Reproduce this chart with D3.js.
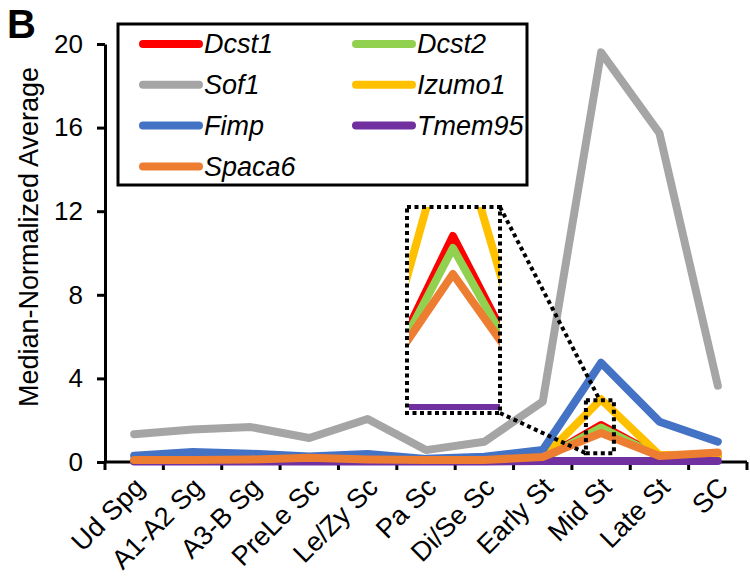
<!DOCTYPE html>
<html>
<head>
<meta charset="utf-8">
<style>
	body { margin: 0; background: #fff; }
	svg { display: block; font-family: "Liberation Sans", Arial, sans-serif; }
	.series { fill: none; stroke-width: 8; stroke-linejoin: round; stroke-linecap: round; }
	.dots { fill: none; stroke: #000; stroke-width: 4; stroke-dasharray: 4 3.5; }
</style>
</head>
<body>
<svg width="750" height="587"></svg>
<script src="https://d3js.org/d3.v7.min.js"></script>
<script>

// ---- data ----
var categories = ["Ud Spg", "A1-A2 Sg", "A3-B Sg", "PreLe Sc", "Le/Zy Sc", "Pa Sc",
	"Di/Se Sc", "Early St", "Mid St", "Late St", "SC"];

var dcst1  = [0.05, 0.05, 0.05, 0.05, 0.05, 0.05, 0.05, 0.15, 1.77, 0.25, 0.30];
var dcst2  = [0.05, 0.05, 0.05, 0.05, 0.05, 0.05, 0.05, 0.15, 1.65, 0.25, 0.30];
var sof1   = [1.33, 1.55, 1.67, 1.15, 2.06, 0.57, 0.97, 2.89, 19.6, 15.74, 3.65];
var izumo1 = [0.05, 0.05, 0.05, 0.05, 0.05, 0.05, 0.05, 0.20, 3.00, 0.33, 0.35];
var fimp   = [0.30, 0.48, 0.40, 0.26, 0.38, 0.15, 0.25, 0.57, 4.75, 1.93, 0.97];
var tmem95 = [0.02, 0.02, 0.02, 0.02, 0.02, 0.02, 0.02, 0.05, 0.05, 0.05, 0.05];
var spaca6 = [0.10, 0.10, 0.12, 0.20, 0.12, 0.10, 0.10, 0.24, 1.39, 0.29, 0.45];

var yTicks = [0, 4, 8, 12, 16, 20];

// legend order (row by row) and draw order (later on top)
var series = [
	{name: "Dcst1",  values: dcst1,  color: "#FF0000"},
	{name: "Dcst2",  values: dcst2,  color: "#92D050"},
	{name: "Sof1",   values: sof1,   color: "#A5A5A5"},
	{name: "Izumo1", values: izumo1, color: "#FFC000"},
	{name: "Fimp",   values: fimp,   color: "#4472C4"},
	{name: "Tmem95", values: tmem95, color: "#7030A0"},
	{name: "Spaca6", values: spaca6, color: "#ED7D31"}
];

var svg = d3.select("svg");

var margin = {top: 44, left: 105, right: 3, bottom: 125};
var width = 750, height = 587;

var x = d3.scaleBand()
	.domain(categories)
	.range([margin.left, width - margin.right]);

var y = d3.scaleLinear()
	.domain([0, 20])
	.range([height - margin.bottom, margin.top]);

var cx = function(i){ return x(categories[i]) + x.bandwidth() / 2; };

var line = d3.line()
	.x(function(d, i){ return cx(i); })
	.y(function(d){ return y(d); });

// panel letter
svg.append("text")
	.attr("x", 7).attr("y", 38)
	.attr("font-size", 40).attr("font-weight", "bold")
	.text("B");

// y axis
var yAxis = svg.append("g")
	.attr("transform", "translate(" + margin.left + ",0)")
	.call(d3.axisLeft(y).tickValues(yTicks).tickSize(8).tickPadding(14).tickSizeOuter(0));
yAxis.select(".domain").attr("stroke-width", 3);
yAxis.selectAll(".tick line").attr("stroke-width", 3);
yAxis.selectAll(".tick text").attr("font-size", 26).attr("font-family", "Liberation Sans, Arial, sans-serif");

svg.append("text")
	.attr("transform", "translate(38," + (y(10) - 16) + ") rotate(-90)")
	.attr("text-anchor", "middle")
	.attr("font-size", 27)
	.text("Median-Normalized Average");

// x axis: line with ticks between categories
var xAxis = svg.append("g");
xAxis.append("line")
	.attr("x1", margin.left).attr("x2", width - margin.right)
	.attr("y1", y(0)).attr("y2", y(0))
	.attr("stroke", "#000").attr("stroke-width", 3);
var bounds = categories.map(function(c){ return x(c); }).concat([x.range()[1]]);
xAxis.selectAll(".xt")
	.data(bounds)
	.join("line")
	.attr("x1", function(d){ return d; }).attr("x2", function(d){ return d; })
	.attr("y1", y(0)).attr("y2", y(0) + 8)
	.attr("stroke", "#000").attr("stroke-width", 3);
xAxis.selectAll(".xl")
	.data(categories)
	.join("text")
	.attr("text-anchor", "end")
	.attr("font-size", 27)
	.attr("transform", function(d, i){
		return "translate(" + (cx(i) + 12) + "," + (y(0) + 27) + ") rotate(-45)";
	})
	.text(function(d){ return d; });

// series
svg.append("g")
	.selectAll("path")
	.data(series)
	.join("path")
	.attr("class", "series")
	.attr("stroke", function(d){ return d.color; })
	.attr("d", function(d){ return line(d.values); });

// ---- zoomed inset around Mid St ----
var mid = categories.indexOf("Mid St");
var inset = {x0: 407, x1: 500, y0: 207, y1: 413};

var xIn = d3.scaleLinear().domain([mid - 0.56, mid + 0.6]).range([inset.x0 + 2, inset.x1]);
var yIn = d3.scaleLinear().domain([0, 2.06]).range([inset.y1, inset.y0]);

var lineIn = d3.line()
	.x(function(d, i){ return xIn(i); })
	.y(function(d){ return yIn(d); });

svg.append("clipPath").attr("id", "inclip")
	.append("rect")
	.attr("x", inset.x0 + 2).attr("y", inset.y0)
	.attr("width", inset.x1 - inset.x0 - 2).attr("height", inset.y1 - inset.y0 - 3);

svg.append("g")
	.attr("clip-path", "url(#inclip)")
	.selectAll("path")
	.data(series.filter(function(s){ return s.name !== "Sof1" && s.name !== "Fimp"; }))
	.join("path")
	.attr("class", "series")
	.attr("stroke-linecap", "butt")
	.attr("stroke", function(d){ return d.color; })
	.attr("d", function(d){ return lineIn(d.values); });

// dotted frames and connectors
var small = {x0: x(categories[mid]) + 14, x1: x(categories[mid]) + 42, y0: y(2.95), y1: y(0.42)};

svg.append("rect").attr("class", "dots")
	.attr("x", inset.x0).attr("y", inset.y0)
	.attr("width", inset.x1 - inset.x0).attr("height", inset.y1 - inset.y0);

svg.append("rect").attr("class", "dots")
	.attr("x", small.x0).attr("y", small.y0)
	.attr("width", small.x1 - small.x0).attr("height", small.y1 - small.y0);

svg.append("line").attr("class", "dots")
	.attr("x1", inset.x1).attr("y1", inset.y0)
	.attr("x2", (small.x0 + small.x1) / 2).attr("y2", small.y0);

svg.append("line").attr("class", "dots")
	.attr("x1", inset.x1).attr("y1", inset.y1)
	.attr("x2", small.x0).attr("y2", small.y1);

// legend
var legend = svg.append("g");
legend.append("rect")
	.attr("x", 118).attr("y", 24)
	.attr("width", 409).attr("height", 161)
	.attr("fill", "#fff").attr("stroke", "#000").attr("stroke-width", 3);

var item = legend.selectAll(".item")
	.data(series)
	.join("g")
	.attr("transform", function(d, i){
		var col = i % 2, row = Math.floor(i / 2);
		return "translate(" + (143 + col * 213) + "," + (44 + row * 40.8) + ")";
	});
item.append("line")
	.attr("x1", 0).attr("x2", 56)
	.attr("stroke", function(d){ return d.color; })
	.attr("stroke-width", 8).attr("stroke-linecap", "round");
item.append("text")
	.attr("x", 61).attr("dy", "0.35em")
	.attr("font-size", 27).attr("font-style", "italic")
	.text(function(d){ return d.name; });

</script>
</body>
</html>
